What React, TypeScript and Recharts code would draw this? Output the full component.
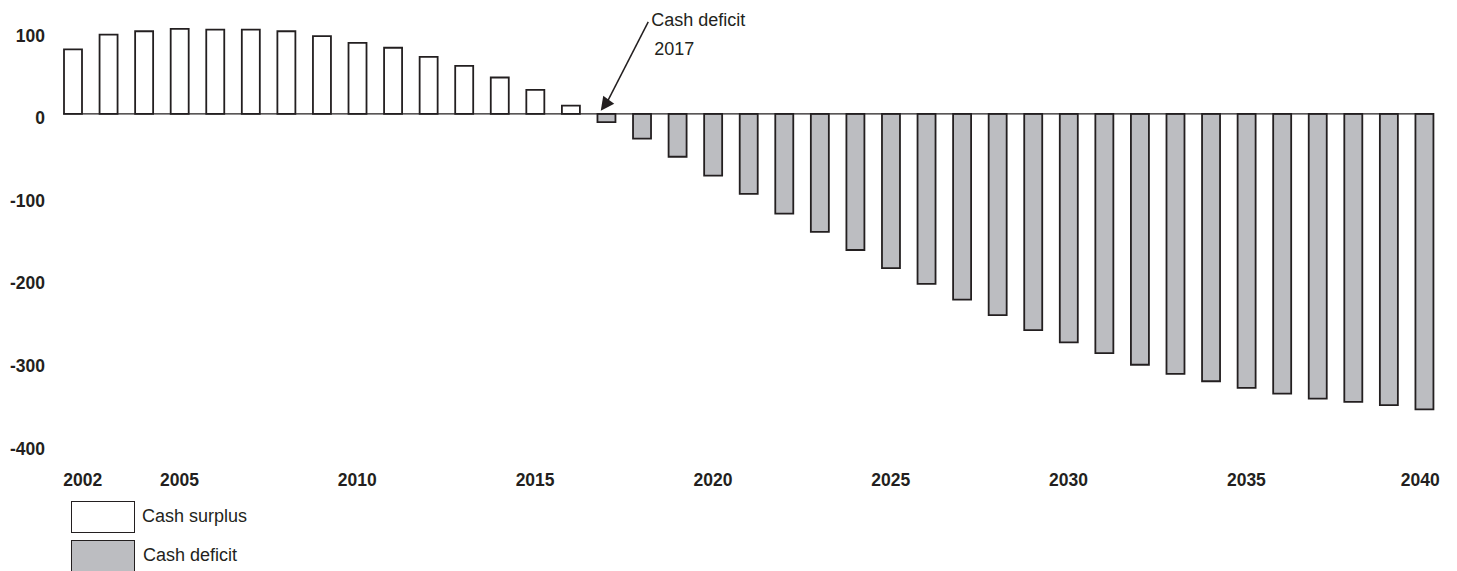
import { Bar, BarChart, Cell, ReferenceDot, ReferenceLine, XAxis, YAxis } from 'recharts';

const years = [
  2002, 2003, 2004, 2005, 2006, 2007, 2008, 2009, 2010, 2011, 2012, 2013, 2014,
  2015, 2016, 2017, 2018, 2019, 2020, 2021, 2022, 2023, 2024, 2025, 2026, 2027,
  2028, 2029, 2030, 2031, 2032, 2033, 2034, 2035, 2036, 2037, 2038, 2039, 2040,
];

// cash balance per year (surplus > 0, deficit < 0)
const cashBalance = [
  78, 96, 100, 103, 102, 102, 100, 94, 86, 80, 69, 58, 44,
  29, 10, -10, -30, -52, -75, -97, -121, -143, -165, -187, -206, -225,
  -244, -262, -277, -290, -304, -315, -324, -332, -339, -345, -349, -353, -358,
];

const labeledYears = [2002, 2005, 2010, 2015, 2020, 2025, 2030, 2035, 2040];
const yTicks = [-400, -300, -200, -100, 0, 100];
const legendLabels = ['Cash surplus', 'Cash deficit'];
const deficitYear = 2017;
const annotationLines = ['Cash deficit', '2017'];

const INK = '#231f20';
const GREY = '#bcbdc1';
const FONT = '"Liberation Sans", Arial, Helvetica, sans-serif';

const data = years.map((year, i) => ({ year, value: cashBalance[i] }));

const YTick = (props: any) => {
  const { x, y, payload } = props;
  return (
    <text x={x - 2} y={y + 10.5} textAnchor="end" fontFamily={FONT} fontSize={17.5} fontWeight="bold" fill={INK}>
      {payload.value}
    </text>
  );
};

const XTick = (props: any) => {
  const { x, y, payload } = props;
  if (!labeledYears.includes(payload.value)) return null;
  // first and last labels are nudged inward like the original
  let dx = 0;
  if (payload.value === years[0]) dx = 10;
  if (payload.value === years[years.length - 1]) dx = -4;
  return (
    <text x={x + dx} y={y + 34} textAnchor="middle" fontFamily={FONT} fontSize={17.5} fontWeight="bold" fill={INK}>
      {payload.value}
    </text>
  );
};

const Annotation = (props: any) => {
  const { cx, cy } = props;
  return (
    <g>
      <line x1={cx + 42} y1={cy - 92} x2={cx + 1} y2={cy - 12} stroke={INK} strokeWidth={1.5} />
      <polygon
        points={`${cx - 5.5},${cy - 3} ${cx - 3},${cy - 18} ${cx + 8},${cy - 10}`}
        fill={INK}
      />
      <text x={cx + 45} y={cy - 88} fontFamily={FONT} fontSize={18} fill={INK}>
        {annotationLines[0]}
      </text>
      <text x={cx + 48} y={cy - 59} fontFamily={FONT} fontSize={18} fill={INK}>
        {annotationLines[1]}
      </text>
    </g>
  );
};

const ZeroLine = (props: any) => {
  const { x1, y1, x2, y2 } = props;
  return <line x1={x1 - 9.5} y1={y1} x2={x2 + 9.5} y2={y2} stroke={INK} strokeWidth={1.3} />;
};

export default function App() {
  return (
    <div style={{ position: 'absolute', left: 0, top: 0, width: 1457, height: 571, background: '#fff' }}>
      <BarChart
        width={1457}
        height={571}
        data={data}
        margin={{ top: 23, right: 15, bottom: 0, left: 0 }}
      >
        <XAxis
          dataKey="year"
          type="category"
          height={127}
          axisLine={false}
          tickLine={false}
          interval={0}
          tick={<XTick />}
        />
        <YAxis
          width={55}
          type="number"
          domain={[-400, 110]}
          ticks={yTicks}
          axisLine={false}
          tickLine={false}
          tick={<YTick />}
        />
        <Bar dataKey="value" barSize={18} stroke={INK} strokeWidth={1.8} isAnimationActive={false}>
          {data.map((d) => (
            <Cell key={d.year} fill={d.value >= 0 ? '#ffffff' : GREY} />
          ))}
        </Bar>
        <ReferenceLine
          segment={[
            { x: years[0], y: 0 },
            { x: years[years.length - 1], y: 0 },
          ]}
          shape={<ZeroLine />}
        />
        <ReferenceDot x={deficitYear} y={0} r={0} shape={<Annotation />} />
      </BarChart>
      {legendLabels.map((label, i) => (
        <div key={label}>
          <div
            style={{
              position: 'absolute',
              left: 71,
              top: 501 + i * 39,
              width: 62,
              height: 30,
              border: `1.5px solid ${INK}`,
              background: i === 0 ? '#ffffff' : GREY,
            }}
          />
          <div
            style={{
              position: 'absolute',
              left: 142 + i,
              top: 505 + i * 39,
              fontFamily: FONT,
              fontSize: 18,
              color: INK,
              lineHeight: '22px',
            }}
          >
            {label}
          </div>
        </div>
      ))}
    </div>
  );
}
